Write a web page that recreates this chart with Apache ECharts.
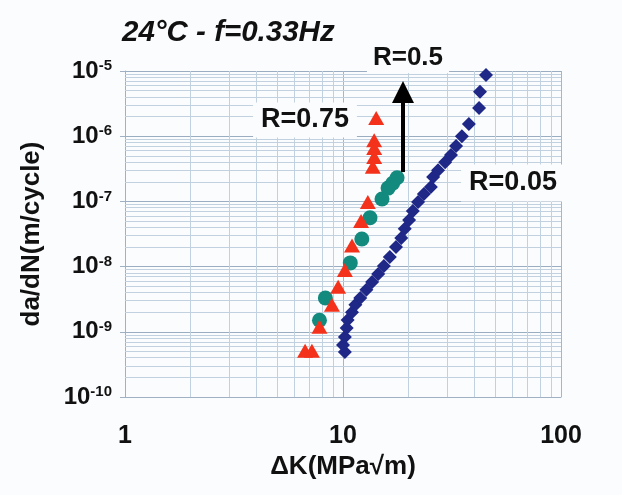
<!DOCTYPE html>
<html>
<head>
<meta charset="utf-8">
<script src="https://cdn.jsdelivr.net/npm/echarts@6.0.0/dist/echarts.min.js"></script>
<style>
  html, body { margin: 0; padding: 0; background: #fbfcfe; }
  #chart { width: 622px; height: 495px; }
</style>
</head>
<body>
<div id="chart"></div>
<script>
// Fatigue crack growth rate vs stress intensity range, 24°C, f = 0.33 Hz

// R = 0.75 (triangles)
const kR075  = [6.7, 7.2, 7.8, 8.9, 9.5, 10.2, 11.0, 12.1, 13.0, 13.7, 13.9, 13.9, 13.9, 14.2];
const daR075 = [5.1e-10, 5.1e-10, 1.2e-9, 2.6e-9, 4.9e-9, 8.9e-9, 2.1e-8, 5.0e-8, 9.8e-8, 3.4e-7, 4.8e-7, 6.6e-7, 8.7e-7, 1.9e-6];

// R = 0.5 (circles)
const kR05  = [7.8, 8.3, 10.8, 12.2, 13.3, 15.1, 16.1, 16.9, 17.7];
const daR05 = [1.5e-9, 3.3e-9, 1.14e-8, 2.65e-8, 5.6e-8, 1.09e-7, 1.6e-7, 1.9e-7, 2.3e-7];

// R = 0.05 (diamonds)
const kR005  = [10.2, 10.0, 10.2, 10.4, 10.5, 11.0, 11.4, 12.0, 12.8, 13.6, 14.5, 15.4, 16.4, 17.5, 18.5, 19.2,
                20.1, 20.9, 22.1, 23.5, 25.3, 25.9, 27.3, 29.4, 31.3, 33.0, 35.1, 37.8, 42.1, 42.5, 45.3];
const daR005 = [4.9e-10, 6.3e-10, 8.3e-10, 1.14e-9, 1.52e-9, 2.0e-9, 2.6e-9, 3.3e-9, 4.4e-9, 5.8e-9, 7.7e-9, 1.02e-8,
                1.4e-8, 2.0e-8, 2.75e-8, 3.8e-8, 5.2e-8, 7.1e-8, 9.8e-8, 1.3e-7, 1.66e-7, 2.37e-7, 3.0e-7, 4.0e-7,
                5.15e-7, 7.1e-7, 1.0e-6, 1.54e-6, 2.7e-6, 4.8e-6, 8.7e-6];

// Axis ranges and tick labels
const xTicks = [1, 10, 100];
const yTickExps = [-10, -9, -8, -7, -6, -5];

// Arrow marking the rise in rate from R=0.5
const arrowK = 18.85;
const arrowFrom = 2.82e-7;
const arrowTo = 4.76e-6;

const FONT = '"Liberation Sans", Arial, sans-serif';

const pairs = (xs, ys) => xs.map((x, i) => [x, ys[i]]);

// Minor log grid lines (2..9 within each decade)
const mant = [2, 3, 4, 5, 6, 7, 8, 9];
const xMin = xTicks[0], xMax = xTicks[xTicks.length - 1];
const yMin = Math.pow(10, yTickExps[0]), yMax = Math.pow(10, yTickExps[yTickExps.length - 1]);
const xMinor = [];
for (let d = 0; d < xTicks.length - 1; d++) mant.forEach(m => xMinor.push(m * xTicks[d]));
const yMinor = [];
for (let i = 0; i < yTickExps.length - 1; i++) mant.forEach(m => yMinor.push(m * Math.pow(10, yTickExps[i])));

const minorLines = [
  ...xMinor.map(v => [{ coord: [v, yMin] }, { coord: [v, yMax] }]),
  ...yMinor.map(v => [{ coord: [xMin, v] }, { coord: [xMax, v] }])
];

const chart = echarts.init(document.getElementById('chart'), null, { renderer: 'canvas' });

chart.setOption({
  backgroundColor: '#fbfcfe',
  animation: false,
  grid: { left: 125, right: 61, top: 71, bottom: 98, containLabel: false },
  xAxis: {
    type: 'log',
    logBase: 10,
    min: xMin,
    max: xMax,
    name: 'ΔK(MPa√m)',
    nameLocation: 'middle',
    nameGap: 56,
    nameTextStyle: { fontFamily: FONT, fontWeight: 'bold', fontSize: 26, color: '#111' },
    axisLine: { show: true, lineStyle: { color: '#9fb1c3', width: 1 } },
    axisTick: { show: false },
    axisLabel: {
      margin: 27,
      fontFamily: FONT, fontWeight: 'bold', fontSize: 25, color: '#111',
      formatter: v => String(Math.round(v))
    },
    splitLine: { show: true, lineStyle: { color: '#a3b6ca', width: 1 } }
  },
  yAxis: {
    type: 'log',
    logBase: 10,
    min: yMin,
    max: yMax,
    name: 'da/dN(m/cycle)',
    nameLocation: 'middle',
    nameGap: 80,
    nameRotate: 90,
    nameTextStyle: { fontFamily: FONT, fontWeight: 'bold', fontSize: 26, color: '#111' },
    axisLine: { show: true, lineStyle: { color: '#9fb1c3', width: 1 } },
    axisTick: { show: true, length: 5, lineStyle: { color: '#9fb1c3' } },
    axisLabel: {
      margin: 13,
      formatter: v => '{b|10}{s|' + Math.round(Math.log10(v)) + '}',
      rich: {
        b: { fontFamily: FONT, fontWeight: 'bold', fontSize: 24, color: '#111', lineHeight: 25 },
        s: { fontFamily: FONT, fontWeight: 'bold', fontSize: 15, color: '#111', verticalAlign: 'top', lineHeight: 15 }
      }
    },
    splitLine: { show: true, lineStyle: { color: '#9aadc1', width: 1 } }
  },
  series: [
    {
      name: 'R=0.05',
      type: 'scatter',
      symbol: 'diamond',
      symbolSize: 14,
      itemStyle: { color: '#1f2787', opacity: 1 },
      data: pairs(kR005, daR005),
      z: 3,
      markLine: {
        silent: true,
        z: 1,
        symbol: ['none', 'none'],
        label: { show: false },
        lineStyle: { color: '#c2d1df', width: 1, type: 'solid', opacity: 1 },
        data: minorLines
      }
    },
    {
      name: 'R=0.5',
      type: 'scatter',
      symbol: 'circle',
      symbolSize: 15,
      itemStyle: { color: '#138a7e', opacity: 1 },
      data: pairs(kR05, daR05),
      z: 4,
      markLine: {
        silent: true,
        z: 6,
        symbol: ['none', 'triangle'],
        symbolSize: 22,
        label: { show: false },
        lineStyle: { color: '#000', width: 4, type: 'solid', opacity: 1 },
        itemStyle: { color: '#000' },
        data: [[{ coord: [arrowK, arrowFrom] }, { coord: [arrowK, arrowTo] }]]
      }
    },
    {
      name: 'R=0.75',
      type: 'scatter',
      symbol: 'triangle',
      symbolSize: [16, 14],
      itemStyle: { color: '#f4321b', opacity: 1 },
      data: pairs(kR075, daR075),
      z: 5
    }
  ],
  graphic: [
    {
      type: 'text', x: 122, y: 33, z: 100,
      style: { text: '24°C - f=0.33Hz', font: 'italic bold 29.5px ' + FONT, fill: '#111', align: 'left', verticalAlign: 'middle' }
    },
    {
      type: 'text', x: 408, y: 58, z: 100,
      style: { text: 'R=0.5', font: 'bold 26px ' + FONT, fill: '#111', align: 'center', verticalAlign: 'middle',
               backgroundColor: '#fbfcfe', padding: [2, 6] }
    },
    {
      type: 'text', x: 305, y: 120, z: 100,
      style: { text: 'R=0.75', font: 'bold 27px ' + FONT, fill: '#111', align: 'center', verticalAlign: 'middle',
               backgroundColor: '#fbfcfe', padding: [4, 8] }
    },
    {
      type: 'text', x: 513, y: 183, z: 100,
      style: { text: 'R=0.05', font: 'bold 27px ' + FONT, fill: '#111', align: 'center', verticalAlign: 'middle',
               backgroundColor: '#fbfcfe', padding: [5, 8] }
    }
  ]
});
</script>
</body>
</html>
